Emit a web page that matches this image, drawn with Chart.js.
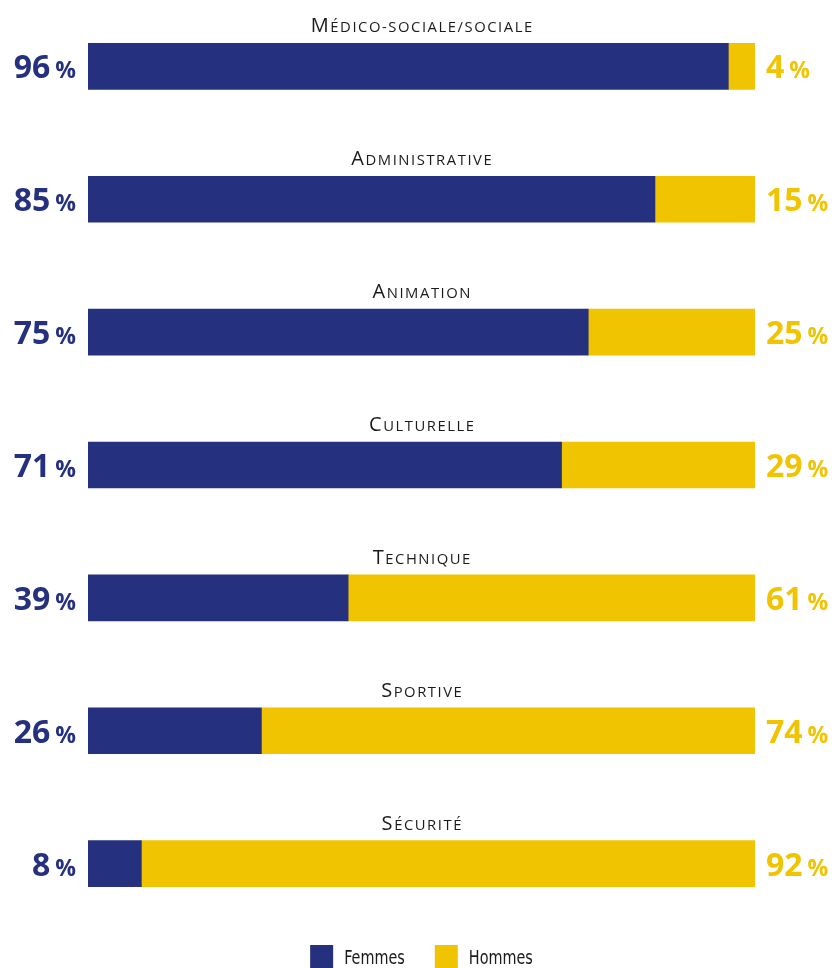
<!DOCTYPE html>
<html>
<head>
<meta charset="utf-8">
<script src="https://cdn.jsdelivr.net/npm/chart.js@4/dist/chart.umd.min.js"></script>
<style>
html,body{margin:0;padding:0;background:#fff;}
#wrap{width:836px;height:968px;position:relative;}
</style>
</head>
<body>
<div id="wrap"><canvas id="c"></canvas></div>
<script>
const categories = ["Médico-sociale/sociale","Administrative","Animation","Culturelle","Technique","Sportive","Sécurité"];
const femmes = [96,85,75,71,39,26,8];
const hommes = [4,15,25,29,61,74,92];
const seriesNames = ["Femmes","Hommes"];
const BLUE = "#25317F";
const YELLOW = "#F0C400";
const TITLE_FONT = "'Open Sans','DejaVu Sans',sans-serif";
const NUM_FONT = "'Open Sans','DejaVu Sans',sans-serif";
const LEG_FONT = "'DejaVu Sans Condensed','DejaVu Sans',sans-serif";

function drawSmallCaps(ctx, text, cx, baseline, big, small, spacing) {
  const parts = [];
  for (const ch of text) {
    const isUpper = ch !== ch.toLowerCase();
    parts.push({ ch: ch.toUpperCase(), size: isUpper ? big : small });
  }
  let total = 0;
  parts.forEach(p => {
    ctx.font = "400 " + p.size + "px " + TITLE_FONT;
    p.w = ctx.measureText(p.ch).width;
    total += p.w + spacing;
  });
  total -= spacing;
  let x = cx - total / 2;
  ctx.textAlign = "left";
  parts.forEach(p => {
    ctx.font = "400 " + p.size + "px " + TITLE_FONT;
    ctx.fillText(p.ch, x, baseline);
    x += p.w + spacing;
  });
}

const labelsPlugin = {
  id: 'customLabels',
  afterDatasetsDraw(chart) {
    const ctx = chart.ctx;
    const ys = chart.scales.y;
    const area = chart.chartArea;
    const cx = (area.left + area.right) / 2;
    ctx.save();
    ctx.textBaseline = "alphabetic";
    categories.forEach((cat, i) => {
      const yc = ys.getPixelForValue(i);
      ctx.fillStyle = "#1a1a1a";
      drawSmallCaps(ctx, cat, cx, yc - 34, 20, 14.8, 1.55);
      const drawVal = (val, color, x, align) => {
        const num = String(val);
        ctx.font = "700 32px " + NUM_FONT;
        const wNum = ctx.measureText(num).width;
        ctx.font = "700 23px " + NUM_FONT;
        const wPct = ctx.measureText("%").width;
        const gap = 5;
        const total = wNum + gap + wPct;
        const x0 = align === 'right' ? x - total : x;
        ctx.fillStyle = color;
        ctx.textAlign = "left";
        ctx.font = "700 32px " + NUM_FONT;
        ctx.fillText(num, x0, yc + 12);
        ctx.font = "700 23px " + NUM_FONT;
        ctx.fillText("%", x0 + wNum + gap, yc + 12);
      };
      drawVal(femmes[i], BLUE, area.left - 12, 'right');
      drawVal(hommes[i], YELLOW, area.right + 11, 'left');
    });
    // legend
    const sx = 0.8;
    ctx.font = "400 20px " + LEG_FONT;
    const box = 23, gapBox = 11, gapItem = 30;
    const colors = [BLUE, YELLOW];
    const widths = chart.data.datasets.map(d => ctx.measureText(d.label).width * sx);
    let total = 0;
    widths.forEach((w, k) => { total += box + gapBox + w + (k < widths.length - 1 ? gapItem : 0); });
    let x = cx - total / 2;
    const top = 945;
    chart.data.datasets.forEach((d, k) => {
      ctx.fillStyle = colors[k];
      ctx.fillRect(x, top, box, box);
      ctx.fillStyle = "#1a1a1a";
      ctx.textAlign = "left";
      ctx.save();
      ctx.translate(x + box + gapBox, 964);
      ctx.scale(sx, 1);
      ctx.fillText(d.label, 0, 0);
      ctx.restore();
      x += box + gapBox + widths[k] + gapItem;
    });
    ctx.restore();
  }
};

new Chart(document.getElementById('c'), {
  type: 'bar',
  data: {
    labels: categories,
    datasets: [
      { label: seriesNames[0], data: femmes, backgroundColor: BLUE, barThickness: 46, borderWidth: 0 },
      { label: seriesNames[1], data: hommes, backgroundColor: YELLOW, barThickness: 46, borderWidth: 0 }
    ]
  },
  options: {
    indexAxis: 'y',
    responsive: true,
    maintainAspectRatio: false,
    animation: false,
    layout: { padding: { left: 88, right: 81, top: 0, bottom: 38 } },
    plugins: { legend: { display: false }, tooltip: { enabled: false } },
    scales: {
      x: { stacked: true, min: 0, max: 100, display: false },
      y: { stacked: true, display: false, offset: true }
    }
  },
  plugins: [labelsPlugin]
});
</script>
</body>
</html>
